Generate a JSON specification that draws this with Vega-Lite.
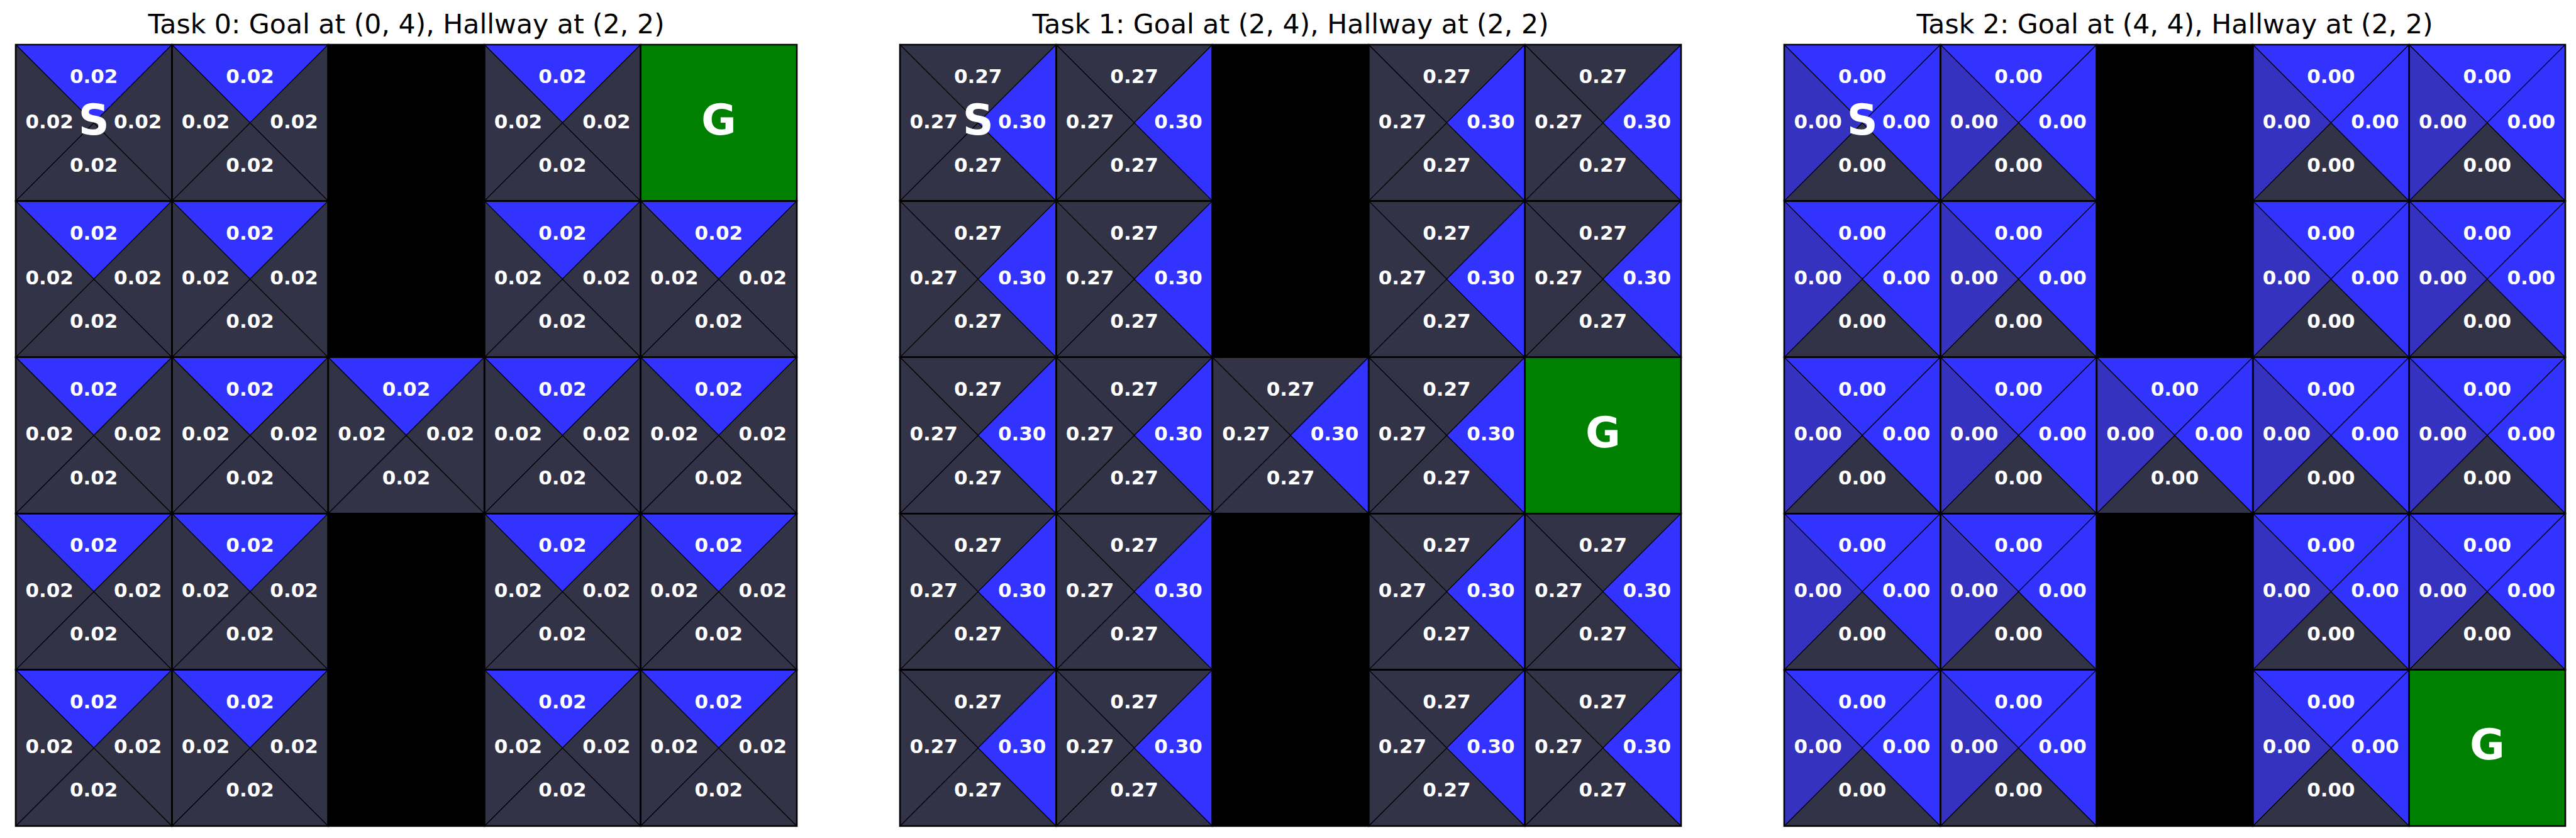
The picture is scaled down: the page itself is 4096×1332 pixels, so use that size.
{
  "$schema": "https://vega.github.io/schema/vega-lite/v6.json",
  "background": "white",
  "padding": {"left": 19, "top": 19, "right": 0, "bottom": 0},
  "autosize": {"type": "pad"},
  "bounds": "flush",
  "spacing": 164,
  "config": {
    "view": {"stroke": null},
    "title": {"font": "DejaVu Sans", "fontSize": 42.6, "fontWeight": "normal", "color": "black", "anchor": "middle", "baseline": "alphabetic", "offset": 0},
    "text": {"font": "DejaVu Sans", "fontWeight": "bold", "color": "white"}
  },
  "datasets": {
    "tri0": [
      {"row":0,"col":0,"dir":"up","value":0.02,"level":"high"},{"row":0,"col":0,"dir":"down","value":0.02,"level":"low"},{"row":0,"col":0,"dir":"left","value":0.02,"level":"low"},{"row":0,"col":0,"dir":"right","value":0.02,"level":"low"},
      {"row":0,"col":1,"dir":"up","value":0.02,"level":"high"},{"row":0,"col":1,"dir":"down","value":0.02,"level":"low"},{"row":0,"col":1,"dir":"left","value":0.02,"level":"low"},{"row":0,"col":1,"dir":"right","value":0.02,"level":"low"},
      {"row":0,"col":3,"dir":"up","value":0.02,"level":"high"},{"row":0,"col":3,"dir":"down","value":0.02,"level":"low"},{"row":0,"col":3,"dir":"left","value":0.02,"level":"low"},{"row":0,"col":3,"dir":"right","value":0.02,"level":"low"},
      {"row":1,"col":0,"dir":"up","value":0.02,"level":"high"},{"row":1,"col":0,"dir":"down","value":0.02,"level":"low"},{"row":1,"col":0,"dir":"left","value":0.02,"level":"low"},{"row":1,"col":0,"dir":"right","value":0.02,"level":"low"},
      {"row":1,"col":1,"dir":"up","value":0.02,"level":"high"},{"row":1,"col":1,"dir":"down","value":0.02,"level":"low"},{"row":1,"col":1,"dir":"left","value":0.02,"level":"low"},{"row":1,"col":1,"dir":"right","value":0.02,"level":"low"},
      {"row":1,"col":3,"dir":"up","value":0.02,"level":"high"},{"row":1,"col":3,"dir":"down","value":0.02,"level":"low"},{"row":1,"col":3,"dir":"left","value":0.02,"level":"low"},{"row":1,"col":3,"dir":"right","value":0.02,"level":"low"},
      {"row":1,"col":4,"dir":"up","value":0.02,"level":"high"},{"row":1,"col":4,"dir":"down","value":0.02,"level":"low"},{"row":1,"col":4,"dir":"left","value":0.02,"level":"low"},{"row":1,"col":4,"dir":"right","value":0.02,"level":"low"},
      {"row":2,"col":0,"dir":"up","value":0.02,"level":"high"},{"row":2,"col":0,"dir":"down","value":0.02,"level":"low"},{"row":2,"col":0,"dir":"left","value":0.02,"level":"low"},{"row":2,"col":0,"dir":"right","value":0.02,"level":"low"},
      {"row":2,"col":1,"dir":"up","value":0.02,"level":"high"},{"row":2,"col":1,"dir":"down","value":0.02,"level":"low"},{"row":2,"col":1,"dir":"left","value":0.02,"level":"low"},{"row":2,"col":1,"dir":"right","value":0.02,"level":"low"},
      {"row":2,"col":2,"dir":"up","value":0.02,"level":"high"},{"row":2,"col":2,"dir":"down","value":0.02,"level":"low"},{"row":2,"col":2,"dir":"left","value":0.02,"level":"low"},{"row":2,"col":2,"dir":"right","value":0.02,"level":"low"},
      {"row":2,"col":3,"dir":"up","value":0.02,"level":"high"},{"row":2,"col":3,"dir":"down","value":0.02,"level":"low"},{"row":2,"col":3,"dir":"left","value":0.02,"level":"low"},{"row":2,"col":3,"dir":"right","value":0.02,"level":"low"},
      {"row":2,"col":4,"dir":"up","value":0.02,"level":"high"},{"row":2,"col":4,"dir":"down","value":0.02,"level":"low"},{"row":2,"col":4,"dir":"left","value":0.02,"level":"low"},{"row":2,"col":4,"dir":"right","value":0.02,"level":"low"},
      {"row":3,"col":0,"dir":"up","value":0.02,"level":"high"},{"row":3,"col":0,"dir":"down","value":0.02,"level":"low"},{"row":3,"col":0,"dir":"left","value":0.02,"level":"low"},{"row":3,"col":0,"dir":"right","value":0.02,"level":"low"},
      {"row":3,"col":1,"dir":"up","value":0.02,"level":"high"},{"row":3,"col":1,"dir":"down","value":0.02,"level":"low"},{"row":3,"col":1,"dir":"left","value":0.02,"level":"low"},{"row":3,"col":1,"dir":"right","value":0.02,"level":"low"},
      {"row":3,"col":3,"dir":"up","value":0.02,"level":"high"},{"row":3,"col":3,"dir":"down","value":0.02,"level":"low"},{"row":3,"col":3,"dir":"left","value":0.02,"level":"low"},{"row":3,"col":3,"dir":"right","value":0.02,"level":"low"},
      {"row":3,"col":4,"dir":"up","value":0.02,"level":"high"},{"row":3,"col":4,"dir":"down","value":0.02,"level":"low"},{"row":3,"col":4,"dir":"left","value":0.02,"level":"low"},{"row":3,"col":4,"dir":"right","value":0.02,"level":"low"},
      {"row":4,"col":0,"dir":"up","value":0.02,"level":"high"},{"row":4,"col":0,"dir":"down","value":0.02,"level":"low"},{"row":4,"col":0,"dir":"left","value":0.02,"level":"low"},{"row":4,"col":0,"dir":"right","value":0.02,"level":"low"},
      {"row":4,"col":1,"dir":"up","value":0.02,"level":"high"},{"row":4,"col":1,"dir":"down","value":0.02,"level":"low"},{"row":4,"col":1,"dir":"left","value":0.02,"level":"low"},{"row":4,"col":1,"dir":"right","value":0.02,"level":"low"},
      {"row":4,"col":3,"dir":"up","value":0.02,"level":"high"},{"row":4,"col":3,"dir":"down","value":0.02,"level":"low"},{"row":4,"col":3,"dir":"left","value":0.02,"level":"low"},{"row":4,"col":3,"dir":"right","value":0.02,"level":"low"},
      {"row":4,"col":4,"dir":"up","value":0.02,"level":"high"},{"row":4,"col":4,"dir":"down","value":0.02,"level":"low"},{"row":4,"col":4,"dir":"left","value":0.02,"level":"low"},{"row":4,"col":4,"dir":"right","value":0.02,"level":"low"}
    ],
    "tri1": [
      {"row":0,"col":0,"dir":"up","value":0.27,"level":"low"},{"row":0,"col":0,"dir":"down","value":0.27,"level":"low"},{"row":0,"col":0,"dir":"left","value":0.27,"level":"low"},{"row":0,"col":0,"dir":"right","value":0.30,"level":"high"},
      {"row":0,"col":1,"dir":"up","value":0.27,"level":"low"},{"row":0,"col":1,"dir":"down","value":0.27,"level":"low"},{"row":0,"col":1,"dir":"left","value":0.27,"level":"low"},{"row":0,"col":1,"dir":"right","value":0.30,"level":"high"},
      {"row":0,"col":3,"dir":"up","value":0.27,"level":"low"},{"row":0,"col":3,"dir":"down","value":0.27,"level":"low"},{"row":0,"col":3,"dir":"left","value":0.27,"level":"low"},{"row":0,"col":3,"dir":"right","value":0.30,"level":"high"},
      {"row":0,"col":4,"dir":"up","value":0.27,"level":"low"},{"row":0,"col":4,"dir":"down","value":0.27,"level":"low"},{"row":0,"col":4,"dir":"left","value":0.27,"level":"low"},{"row":0,"col":4,"dir":"right","value":0.30,"level":"high"},
      {"row":1,"col":0,"dir":"up","value":0.27,"level":"low"},{"row":1,"col":0,"dir":"down","value":0.27,"level":"low"},{"row":1,"col":0,"dir":"left","value":0.27,"level":"low"},{"row":1,"col":0,"dir":"right","value":0.30,"level":"high"},
      {"row":1,"col":1,"dir":"up","value":0.27,"level":"low"},{"row":1,"col":1,"dir":"down","value":0.27,"level":"low"},{"row":1,"col":1,"dir":"left","value":0.27,"level":"low"},{"row":1,"col":1,"dir":"right","value":0.30,"level":"high"},
      {"row":1,"col":3,"dir":"up","value":0.27,"level":"low"},{"row":1,"col":3,"dir":"down","value":0.27,"level":"low"},{"row":1,"col":3,"dir":"left","value":0.27,"level":"low"},{"row":1,"col":3,"dir":"right","value":0.30,"level":"high"},
      {"row":1,"col":4,"dir":"up","value":0.27,"level":"low"},{"row":1,"col":4,"dir":"down","value":0.27,"level":"low"},{"row":1,"col":4,"dir":"left","value":0.27,"level":"low"},{"row":1,"col":4,"dir":"right","value":0.30,"level":"high"},
      {"row":2,"col":0,"dir":"up","value":0.27,"level":"low"},{"row":2,"col":0,"dir":"down","value":0.27,"level":"low"},{"row":2,"col":0,"dir":"left","value":0.27,"level":"low"},{"row":2,"col":0,"dir":"right","value":0.30,"level":"high"},
      {"row":2,"col":1,"dir":"up","value":0.27,"level":"low"},{"row":2,"col":1,"dir":"down","value":0.27,"level":"low"},{"row":2,"col":1,"dir":"left","value":0.27,"level":"low"},{"row":2,"col":1,"dir":"right","value":0.30,"level":"high"},
      {"row":2,"col":2,"dir":"up","value":0.27,"level":"low"},{"row":2,"col":2,"dir":"down","value":0.27,"level":"low"},{"row":2,"col":2,"dir":"left","value":0.27,"level":"low"},{"row":2,"col":2,"dir":"right","value":0.30,"level":"high"},
      {"row":2,"col":3,"dir":"up","value":0.27,"level":"low"},{"row":2,"col":3,"dir":"down","value":0.27,"level":"low"},{"row":2,"col":3,"dir":"left","value":0.27,"level":"low"},{"row":2,"col":3,"dir":"right","value":0.30,"level":"high"},
      {"row":3,"col":0,"dir":"up","value":0.27,"level":"low"},{"row":3,"col":0,"dir":"down","value":0.27,"level":"low"},{"row":3,"col":0,"dir":"left","value":0.27,"level":"low"},{"row":3,"col":0,"dir":"right","value":0.30,"level":"high"},
      {"row":3,"col":1,"dir":"up","value":0.27,"level":"low"},{"row":3,"col":1,"dir":"down","value":0.27,"level":"low"},{"row":3,"col":1,"dir":"left","value":0.27,"level":"low"},{"row":3,"col":1,"dir":"right","value":0.30,"level":"high"},
      {"row":3,"col":3,"dir":"up","value":0.27,"level":"low"},{"row":3,"col":3,"dir":"down","value":0.27,"level":"low"},{"row":3,"col":3,"dir":"left","value":0.27,"level":"low"},{"row":3,"col":3,"dir":"right","value":0.30,"level":"high"},
      {"row":3,"col":4,"dir":"up","value":0.27,"level":"low"},{"row":3,"col":4,"dir":"down","value":0.27,"level":"low"},{"row":3,"col":4,"dir":"left","value":0.27,"level":"low"},{"row":3,"col":4,"dir":"right","value":0.30,"level":"high"},
      {"row":4,"col":0,"dir":"up","value":0.27,"level":"low"},{"row":4,"col":0,"dir":"down","value":0.27,"level":"low"},{"row":4,"col":0,"dir":"left","value":0.27,"level":"low"},{"row":4,"col":0,"dir":"right","value":0.30,"level":"high"},
      {"row":4,"col":1,"dir":"up","value":0.27,"level":"low"},{"row":4,"col":1,"dir":"down","value":0.27,"level":"low"},{"row":4,"col":1,"dir":"left","value":0.27,"level":"low"},{"row":4,"col":1,"dir":"right","value":0.30,"level":"high"},
      {"row":4,"col":3,"dir":"up","value":0.27,"level":"low"},{"row":4,"col":3,"dir":"down","value":0.27,"level":"low"},{"row":4,"col":3,"dir":"left","value":0.27,"level":"low"},{"row":4,"col":3,"dir":"right","value":0.30,"level":"high"},
      {"row":4,"col":4,"dir":"up","value":0.27,"level":"low"},{"row":4,"col":4,"dir":"down","value":0.27,"level":"low"},{"row":4,"col":4,"dir":"left","value":0.27,"level":"low"},{"row":4,"col":4,"dir":"right","value":0.30,"level":"high"}
    ],
    "tri2": [
      {"row":0,"col":0,"dir":"up","value":0,"level":"high"},{"row":0,"col":0,"dir":"down","value":0,"level":"low"},{"row":0,"col":0,"dir":"left","value":0,"level":"mid"},{"row":0,"col":0,"dir":"right","value":0,"level":"high"},
      {"row":0,"col":1,"dir":"up","value":0,"level":"high"},{"row":0,"col":1,"dir":"down","value":0,"level":"low"},{"row":0,"col":1,"dir":"left","value":0,"level":"mid"},{"row":0,"col":1,"dir":"right","value":0,"level":"high"},
      {"row":0,"col":3,"dir":"up","value":0,"level":"high"},{"row":0,"col":3,"dir":"down","value":0,"level":"low"},{"row":0,"col":3,"dir":"left","value":0,"level":"mid"},{"row":0,"col":3,"dir":"right","value":0,"level":"high"},
      {"row":0,"col":4,"dir":"up","value":0,"level":"high"},{"row":0,"col":4,"dir":"down","value":0,"level":"low"},{"row":0,"col":4,"dir":"left","value":0,"level":"mid"},{"row":0,"col":4,"dir":"right","value":0,"level":"high"},
      {"row":1,"col":0,"dir":"up","value":0,"level":"high"},{"row":1,"col":0,"dir":"down","value":0,"level":"low"},{"row":1,"col":0,"dir":"left","value":0,"level":"mid"},{"row":1,"col":0,"dir":"right","value":0,"level":"high"},
      {"row":1,"col":1,"dir":"up","value":0,"level":"high"},{"row":1,"col":1,"dir":"down","value":0,"level":"low"},{"row":1,"col":1,"dir":"left","value":0,"level":"mid"},{"row":1,"col":1,"dir":"right","value":0,"level":"high"},
      {"row":1,"col":3,"dir":"up","value":0,"level":"high"},{"row":1,"col":3,"dir":"down","value":0,"level":"low"},{"row":1,"col":3,"dir":"left","value":0,"level":"mid"},{"row":1,"col":3,"dir":"right","value":0,"level":"high"},
      {"row":1,"col":4,"dir":"up","value":0,"level":"high"},{"row":1,"col":4,"dir":"down","value":0,"level":"low"},{"row":1,"col":4,"dir":"left","value":0,"level":"mid"},{"row":1,"col":4,"dir":"right","value":0,"level":"high"},
      {"row":2,"col":0,"dir":"up","value":0,"level":"high"},{"row":2,"col":0,"dir":"down","value":0,"level":"low"},{"row":2,"col":0,"dir":"left","value":0,"level":"mid"},{"row":2,"col":0,"dir":"right","value":0,"level":"high"},
      {"row":2,"col":1,"dir":"up","value":0,"level":"high"},{"row":2,"col":1,"dir":"down","value":0,"level":"low"},{"row":2,"col":1,"dir":"left","value":0,"level":"mid"},{"row":2,"col":1,"dir":"right","value":0,"level":"high"},
      {"row":2,"col":2,"dir":"up","value":0,"level":"high"},{"row":2,"col":2,"dir":"down","value":0,"level":"low"},{"row":2,"col":2,"dir":"left","value":0,"level":"mid"},{"row":2,"col":2,"dir":"right","value":0,"level":"high"},
      {"row":2,"col":3,"dir":"up","value":0,"level":"high"},{"row":2,"col":3,"dir":"down","value":0,"level":"low"},{"row":2,"col":3,"dir":"left","value":0,"level":"mid"},{"row":2,"col":3,"dir":"right","value":0,"level":"high"},
      {"row":2,"col":4,"dir":"up","value":0,"level":"high"},{"row":2,"col":4,"dir":"down","value":0,"level":"low"},{"row":2,"col":4,"dir":"left","value":0,"level":"mid"},{"row":2,"col":4,"dir":"right","value":0,"level":"high"},
      {"row":3,"col":0,"dir":"up","value":0,"level":"high"},{"row":3,"col":0,"dir":"down","value":0,"level":"low"},{"row":3,"col":0,"dir":"left","value":0,"level":"mid"},{"row":3,"col":0,"dir":"right","value":0,"level":"high"},
      {"row":3,"col":1,"dir":"up","value":0,"level":"high"},{"row":3,"col":1,"dir":"down","value":0,"level":"low"},{"row":3,"col":1,"dir":"left","value":0,"level":"mid"},{"row":3,"col":1,"dir":"right","value":0,"level":"high"},
      {"row":3,"col":3,"dir":"up","value":0,"level":"high"},{"row":3,"col":3,"dir":"down","value":0,"level":"low"},{"row":3,"col":3,"dir":"left","value":0,"level":"mid"},{"row":3,"col":3,"dir":"right","value":0,"level":"high"},
      {"row":3,"col":4,"dir":"up","value":0,"level":"high"},{"row":3,"col":4,"dir":"down","value":0,"level":"low"},{"row":3,"col":4,"dir":"left","value":0,"level":"mid"},{"row":3,"col":4,"dir":"right","value":0,"level":"high"},
      {"row":4,"col":0,"dir":"up","value":0,"level":"high"},{"row":4,"col":0,"dir":"down","value":0,"level":"low"},{"row":4,"col":0,"dir":"left","value":0,"level":"mid"},{"row":4,"col":0,"dir":"right","value":0,"level":"high"},
      {"row":4,"col":1,"dir":"up","value":0,"level":"high"},{"row":4,"col":1,"dir":"down","value":0,"level":"low"},{"row":4,"col":1,"dir":"left","value":0,"level":"mid"},{"row":4,"col":1,"dir":"right","value":0,"level":"high"},
      {"row":4,"col":3,"dir":"up","value":0,"level":"high"},{"row":4,"col":3,"dir":"down","value":0,"level":"low"},{"row":4,"col":3,"dir":"left","value":0,"level":"mid"},{"row":4,"col":3,"dir":"right","value":0,"level":"high"}
    ],
    "cells0": [
      {"row":0,"col":0,"kind":"open","label":"S"},{"row":0,"col":1,"kind":"open","label":""},{"row":0,"col":2,"kind":"wall","label":""},{"row":0,"col":3,"kind":"open","label":""},{"row":0,"col":4,"kind":"goal","label":"G"},
      {"row":1,"col":0,"kind":"open","label":""},{"row":1,"col":1,"kind":"open","label":""},{"row":1,"col":2,"kind":"wall","label":""},{"row":1,"col":3,"kind":"open","label":""},{"row":1,"col":4,"kind":"open","label":""},
      {"row":2,"col":0,"kind":"open","label":""},{"row":2,"col":1,"kind":"open","label":""},{"row":2,"col":2,"kind":"open","label":""},{"row":2,"col":3,"kind":"open","label":""},{"row":2,"col":4,"kind":"open","label":""},
      {"row":3,"col":0,"kind":"open","label":""},{"row":3,"col":1,"kind":"open","label":""},{"row":3,"col":2,"kind":"wall","label":""},{"row":3,"col":3,"kind":"open","label":""},{"row":3,"col":4,"kind":"open","label":""},
      {"row":4,"col":0,"kind":"open","label":""},{"row":4,"col":1,"kind":"open","label":""},{"row":4,"col":2,"kind":"wall","label":""},{"row":4,"col":3,"kind":"open","label":""},{"row":4,"col":4,"kind":"open","label":""}
    ],
    "cells1": [
      {"row":0,"col":0,"kind":"open","label":"S"},{"row":0,"col":1,"kind":"open","label":""},{"row":0,"col":2,"kind":"wall","label":""},{"row":0,"col":3,"kind":"open","label":""},{"row":0,"col":4,"kind":"open","label":""},
      {"row":1,"col":0,"kind":"open","label":""},{"row":1,"col":1,"kind":"open","label":""},{"row":1,"col":2,"kind":"wall","label":""},{"row":1,"col":3,"kind":"open","label":""},{"row":1,"col":4,"kind":"open","label":""},
      {"row":2,"col":0,"kind":"open","label":""},{"row":2,"col":1,"kind":"open","label":""},{"row":2,"col":2,"kind":"open","label":""},{"row":2,"col":3,"kind":"open","label":""},{"row":2,"col":4,"kind":"goal","label":"G"},
      {"row":3,"col":0,"kind":"open","label":""},{"row":3,"col":1,"kind":"open","label":""},{"row":3,"col":2,"kind":"wall","label":""},{"row":3,"col":3,"kind":"open","label":""},{"row":3,"col":4,"kind":"open","label":""},
      {"row":4,"col":0,"kind":"open","label":""},{"row":4,"col":1,"kind":"open","label":""},{"row":4,"col":2,"kind":"wall","label":""},{"row":4,"col":3,"kind":"open","label":""},{"row":4,"col":4,"kind":"open","label":""}
    ],
    "cells2": [
      {"row":0,"col":0,"kind":"open","label":"S"},{"row":0,"col":1,"kind":"open","label":""},{"row":0,"col":2,"kind":"wall","label":""},{"row":0,"col":3,"kind":"open","label":""},{"row":0,"col":4,"kind":"open","label":""},
      {"row":1,"col":0,"kind":"open","label":""},{"row":1,"col":1,"kind":"open","label":""},{"row":1,"col":2,"kind":"wall","label":""},{"row":1,"col":3,"kind":"open","label":""},{"row":1,"col":4,"kind":"open","label":""},
      {"row":2,"col":0,"kind":"open","label":""},{"row":2,"col":1,"kind":"open","label":""},{"row":2,"col":2,"kind":"open","label":""},{"row":2,"col":3,"kind":"open","label":""},{"row":2,"col":4,"kind":"open","label":""},
      {"row":3,"col":0,"kind":"open","label":""},{"row":3,"col":1,"kind":"open","label":""},{"row":3,"col":2,"kind":"wall","label":""},{"row":3,"col":3,"kind":"open","label":""},{"row":3,"col":4,"kind":"open","label":""},
      {"row":4,"col":0,"kind":"open","label":""},{"row":4,"col":1,"kind":"open","label":""},{"row":4,"col":2,"kind":"wall","label":""},{"row":4,"col":3,"kind":"open","label":""},{"row":4,"col":4,"kind":"goal","label":"G"}
    ]
  },
  "hconcat": [
    {
      "title": "Task 0: Goal at (0, 4), Hallway at (2, 2)",
      "width": 1242, "height": 1242,
      "encoding": {
        "x": {"field": "col", "type": "ordinal", "axis": null, "scale": {"type": "band", "domain": [0,1,2,3,4], "paddingInner": 0, "paddingOuter": 0}},
        "y": {"field": "row", "type": "ordinal", "axis": null, "scale": {"type": "band", "domain": [0,1,2,3,4], "paddingInner": 0, "paddingOuter": 0}}
      },
      "layer": [
        {"data": {"name": "tri0"}, "mark": {"type": "point", "filled": true, "opacity": 1, "size": 61703, "stroke": "black", "strokeWidth": 1.2},
         "encoding": {
           "shape": {"field": "dir", "type": "nominal", "legend": null, "scale": {"domain": ["up","down","left","right"], "range": ["M-1,-1L1,-1L0,0Z","M-1,1L1,1L0,0Z","M-1,-1L-1,1L0,0Z","M1,-1L1,1L0,0Z"]}},
           "fill": {"field": "level", "type": "nominal", "legend": null, "scale": {"domain": ["high","mid","low"], "range": ["#3333ff","#3432be","#333347"]}}
         }},
        {"data": {"name": "cells0"}, "transform": [{"filter": "datum.kind == 'wall'"}], "mark": {"type": "square", "size": 61703, "color": "black", "opacity": 1}},
        {"data": {"name": "cells0"}, "transform": [{"filter": "datum.kind == 'goal'"}], "mark": {"type": "square", "size": 61703, "color": "#008000", "opacity": 1}},
        {"data": {"name": "cells0"}, "mark": {"type": "point", "shape": "square", "size": 61703, "filled": false, "stroke": "black", "strokeWidth": 2.6, "opacity": 1}},
        {"data": {"name": "tri0"}, "transform": [{"filter": "datum.dir == 'up'"}], "mark": {"type": "text", "fontSize": 31, "dy": -72}, "encoding": {"text": {"field": "value", "type": "quantitative", "format": ".2f"}}},
        {"data": {"name": "tri0"}, "transform": [{"filter": "datum.dir == 'down'"}], "mark": {"type": "text", "fontSize": 31, "dy": 68.5}, "encoding": {"text": {"field": "value", "type": "quantitative", "format": ".2f"}}},
        {"data": {"name": "tri0"}, "transform": [{"filter": "datum.dir == 'left'"}], "mark": {"type": "text", "fontSize": 31, "dx": -70.5, "dy": -0.6}, "encoding": {"text": {"field": "value", "type": "quantitative", "format": ".2f"}}},
        {"data": {"name": "tri0"}, "transform": [{"filter": "datum.dir == 'right'"}], "mark": {"type": "text", "fontSize": 31, "dx": 70, "dy": -0.6}, "encoding": {"text": {"field": "value", "type": "quantitative", "format": ".2f"}}},
        {"data": {"name": "cells0"}, "mark": {"type": "text", "fontSize": 68, "dy": -1.5}, "encoding": {"text": {"field": "label", "type": "nominal"}}}
      ]
    },
    {
      "title": "Task 1: Goal at (2, 4), Hallway at (2, 2)",
      "width": 1242, "height": 1242,
      "encoding": {
        "x": {"field": "col", "type": "ordinal", "axis": null, "scale": {"type": "band", "domain": [0,1,2,3,4], "paddingInner": 0, "paddingOuter": 0}},
        "y": {"field": "row", "type": "ordinal", "axis": null, "scale": {"type": "band", "domain": [0,1,2,3,4], "paddingInner": 0, "paddingOuter": 0}}
      },
      "layer": [
        {"data": {"name": "tri1"}, "mark": {"type": "point", "filled": true, "opacity": 1, "size": 61703, "stroke": "black", "strokeWidth": 1.2},
         "encoding": {
           "shape": {"field": "dir", "type": "nominal", "legend": null, "scale": {"domain": ["up","down","left","right"], "range": ["M-1,-1L1,-1L0,0Z","M-1,1L1,1L0,0Z","M-1,-1L-1,1L0,0Z","M1,-1L1,1L0,0Z"]}},
           "fill": {"field": "level", "type": "nominal", "legend": null, "scale": {"domain": ["high","mid","low"], "range": ["#3333ff","#3432be","#333347"]}}
         }},
        {"data": {"name": "cells1"}, "transform": [{"filter": "datum.kind == 'wall'"}], "mark": {"type": "square", "size": 61703, "color": "black", "opacity": 1}},
        {"data": {"name": "cells1"}, "transform": [{"filter": "datum.kind == 'goal'"}], "mark": {"type": "square", "size": 61703, "color": "#008000", "opacity": 1}},
        {"data": {"name": "cells1"}, "mark": {"type": "point", "shape": "square", "size": 61703, "filled": false, "stroke": "black", "strokeWidth": 2.6, "opacity": 1}},
        {"data": {"name": "tri1"}, "transform": [{"filter": "datum.dir == 'up'"}], "mark": {"type": "text", "fontSize": 31, "dy": -72}, "encoding": {"text": {"field": "value", "type": "quantitative", "format": ".2f"}}},
        {"data": {"name": "tri1"}, "transform": [{"filter": "datum.dir == 'down'"}], "mark": {"type": "text", "fontSize": 31, "dy": 68.5}, "encoding": {"text": {"field": "value", "type": "quantitative", "format": ".2f"}}},
        {"data": {"name": "tri1"}, "transform": [{"filter": "datum.dir == 'left'"}], "mark": {"type": "text", "fontSize": 31, "dx": -70.5, "dy": -0.6}, "encoding": {"text": {"field": "value", "type": "quantitative", "format": ".2f"}}},
        {"data": {"name": "tri1"}, "transform": [{"filter": "datum.dir == 'right'"}], "mark": {"type": "text", "fontSize": 31, "dx": 70, "dy": -0.6}, "encoding": {"text": {"field": "value", "type": "quantitative", "format": ".2f"}}},
        {"data": {"name": "cells1"}, "mark": {"type": "text", "fontSize": 68, "dy": -1.5}, "encoding": {"text": {"field": "label", "type": "nominal"}}}
      ]
    },
    {
      "title": "Task 2: Goal at (4, 4), Hallway at (2, 2)",
      "width": 1242, "height": 1242,
      "encoding": {
        "x": {"field": "col", "type": "ordinal", "axis": null, "scale": {"type": "band", "domain": [0,1,2,3,4], "paddingInner": 0, "paddingOuter": 0}},
        "y": {"field": "row", "type": "ordinal", "axis": null, "scale": {"type": "band", "domain": [0,1,2,3,4], "paddingInner": 0, "paddingOuter": 0}}
      },
      "layer": [
        {"data": {"name": "tri2"}, "mark": {"type": "point", "filled": true, "opacity": 1, "size": 61703, "stroke": "black", "strokeWidth": 1.2},
         "encoding": {
           "shape": {"field": "dir", "type": "nominal", "legend": null, "scale": {"domain": ["up","down","left","right"], "range": ["M-1,-1L1,-1L0,0Z","M-1,1L1,1L0,0Z","M-1,-1L-1,1L0,0Z","M1,-1L1,1L0,0Z"]}},
           "fill": {"field": "level", "type": "nominal", "legend": null, "scale": {"domain": ["high","mid","low"], "range": ["#3333ff","#3432be","#333347"]}}
         }},
        {"data": {"name": "cells2"}, "transform": [{"filter": "datum.kind == 'wall'"}], "mark": {"type": "square", "size": 61703, "color": "black", "opacity": 1}},
        {"data": {"name": "cells2"}, "transform": [{"filter": "datum.kind == 'goal'"}], "mark": {"type": "square", "size": 61703, "color": "#008000", "opacity": 1}},
        {"data": {"name": "cells2"}, "mark": {"type": "point", "shape": "square", "size": 61703, "filled": false, "stroke": "black", "strokeWidth": 2.6, "opacity": 1}},
        {"data": {"name": "tri2"}, "transform": [{"filter": "datum.dir == 'up'"}], "mark": {"type": "text", "fontSize": 31, "dy": -72}, "encoding": {"text": {"field": "value", "type": "quantitative", "format": ".2f"}}},
        {"data": {"name": "tri2"}, "transform": [{"filter": "datum.dir == 'down'"}], "mark": {"type": "text", "fontSize": 31, "dy": 68.5}, "encoding": {"text": {"field": "value", "type": "quantitative", "format": ".2f"}}},
        {"data": {"name": "tri2"}, "transform": [{"filter": "datum.dir == 'left'"}], "mark": {"type": "text", "fontSize": 31, "dx": -70.5, "dy": -0.6}, "encoding": {"text": {"field": "value", "type": "quantitative", "format": ".2f"}}},
        {"data": {"name": "tri2"}, "transform": [{"filter": "datum.dir == 'right'"}], "mark": {"type": "text", "fontSize": 31, "dx": 70, "dy": -0.6}, "encoding": {"text": {"field": "value", "type": "quantitative", "format": ".2f"}}},
        {"data": {"name": "cells2"}, "mark": {"type": "text", "fontSize": 68, "dy": -1.5}, "encoding": {"text": {"field": "label", "type": "nominal"}}}
      ]
    }
  ]
}
